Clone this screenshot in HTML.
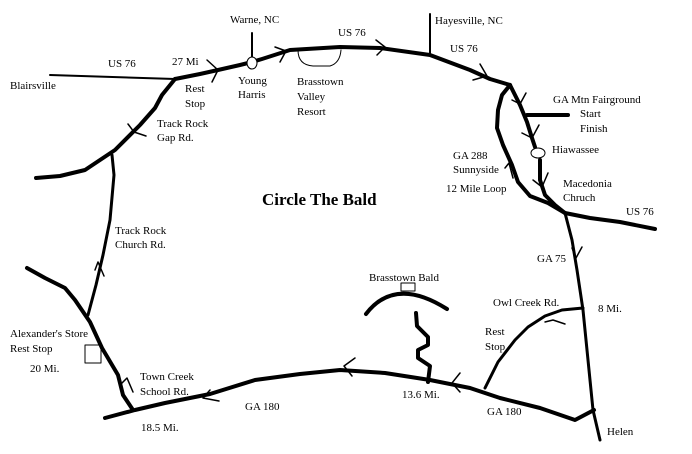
<!DOCTYPE html>
<html><head><meta charset="utf-8"><style>
html,body{margin:0;padding:0;background:#fff}
svg{display:block}
text{font-family:"Liberation Serif",serif;font-size:11px;fill:#000}
</style></head><body>
<svg width="692" height="454" viewBox="0 0 692 454" xmlns="http://www.w3.org/2000/svg">
<g fill="none" stroke="#000" stroke-linecap="round" stroke-linejoin="round">
<polyline points="50,75 175,79" stroke-width="2"/>
<line x1="252" y1="33" x2="252" y2="58" stroke-width="2"/>
<line x1="430" y1="14" x2="430" y2="55" stroke-width="2"/>
<polyline points="175,79 200,74 218,70 240,65 252,62 262,59 290,50 340,47 380,48 430,55 470,70 490,79 510,85" stroke-width="4"/>
<polyline points="510,85 502,95 498,110 497,128 503,145 512,165 518,182 530,196 548,203 565,213" stroke-width="4"/>
<polyline points="510,85 520,105 527,122 532,138 535,147" stroke-width="4"/>
<polyline points="540,160 540,180 545,195 555,205 565,213" stroke-width="4"/>
<line x1="527" y1="115" x2="568" y2="115" stroke-width="4"/>
<polyline points="565,213 590,218 620,222 655,229" stroke-width="4"/>
<polyline points="565,213 572,240 577,270 583,310 588,360 593,410 600,440" stroke-width="3"/>
<polyline points="105,418 135,410 165,403 210,394 255,380 300,374 340,370 385,373 430,380 470,388 500,398 540,408 575,420 594,410" stroke-width="4"/>
<polyline points="485,388 498,362 515,340 528,327 545,316 562,310 583,308" stroke-width="3"/>
<polyline points="36,178 60,176 85,170 100,160 115,150 140,125 155,108 162,95 175,79" stroke-width="4"/>
<polyline points="112,155 114,175 110,220 103,255 96,285 88,315" stroke-width="3"/>
<polyline points="27,268 45,278 65,288 75,300 90,322 102,348 118,375 123,395 133,410" stroke-width="4"/>
<path d="M366,314 Q395,276 447,309" stroke-width="4"/>
<rect x="401" y="283" width="14" height="8" stroke-width="1"/>
<polyline points="416,313 417,326 428,337 428,345 418,350 418,358 430,366 428,382" stroke-width="4"/>
<path d="M298,50 Q298,65 313,66 L330,66 Q340,63 341,50" stroke-width="1"/>
<rect x="85" y="345" width="16" height="18" stroke-width="1"/>
<ellipse cx="252" cy="63" rx="5" ry="6" fill="#fff" stroke-width="1"/>
<ellipse cx="538" cy="153" rx="7" ry="5" fill="#fff" stroke-width="1"/>
<g stroke-width="1.5">
<polyline points="207,60 218,70 212,82"/>
<polyline points="275,47 286,51 280,62"/>
<polyline points="376,40 385,47 377,55"/>
<polyline points="480,64 487,76 473,80"/>
<polyline points="512,100 520,104 526,93"/>
<polyline points="522,133 532,138 539,125"/>
<polyline points="533,180 542,187 548,173"/>
<polyline points="128,124 134,132 146,136"/>
<polyline points="95,270 98,262 104,276"/>
<polyline points="120,385 127,378 133,392"/>
<polyline points="210,390 203,398 219,401"/>
<polyline points="355,358 344,366 352,376"/>
<polyline points="460,373 452,383 460,392"/>
<polyline points="572,248 576,258 582,247"/>
<polyline points="545,322 553,320 565,324"/>
<polyline points="513,178 509,163 505,168"/>
</g>
</g>
<text x="230" y="23">Warne, NC</text>
<text x="435" y="24">Hayesville, NC</text>
<text x="108" y="67">US 76</text>
<text x="172" y="65">27 Mi</text>
<text x="10" y="89">Blairsville</text>
<text x="185" y="92">Rest</text>
<text x="185" y="107">Stop</text>
<text x="238" y="84">Young</text>
<text x="238" y="98">Harris</text>
<text x="297" y="85">Brasstown</text>
<text x="297" y="100">Valley</text>
<text x="297" y="115">Resort</text>
<text x="338" y="36">US 76</text>
<text x="450" y="52">US 76</text>
<text x="157" y="127">Track Rock</text>
<text x="157" y="141">Gap Rd.</text>
<text x="553" y="103">GA Mtn Fairground</text>
<text x="580" y="117" font-size="13px">Start</text>
<text x="580" y="132" font-size="13px">Finish</text>
<text x="552" y="153">Hiawassee</text>
<text x="453" y="159">GA 288</text>
<text x="453" y="173">Sunnyside</text>
<text x="446" y="192">12 Mile Loop</text>
<text x="563" y="187">Macedonia</text>
<text x="563" y="201">Chruch</text>
<text x="626" y="215">US 76</text>
<text x="262" y="205" style="font-size:17px;font-weight:bold">Circle The Bald</text>
<text x="115" y="234">Track Rock</text>
<text x="115" y="248">Church Rd.</text>
<text x="537" y="262">GA 75</text>
<text x="369" y="281">Brasstown Bald</text>
<text x="493" y="306">Owl Creek Rd.</text>
<text x="598" y="312">8 Mi.</text>
<text x="485" y="335">Rest</text>
<text x="485" y="350">Stop</text>
<text x="10" y="337">Alexander's Store</text>
<text x="10" y="352">Rest Stop</text>
<text x="30" y="372">20 Mi.</text>
<text x="140" y="380">Town Creek</text>
<text x="140" y="395">School Rd.</text>
<text x="245" y="410">GA 180</text>
<text x="402" y="398">13.6 Mi.</text>
<text x="487" y="415">GA 180</text>
<text x="141" y="431">18.5 Mi.</text>
<text x="607" y="435">Helen</text>
</svg>
</body></html>
